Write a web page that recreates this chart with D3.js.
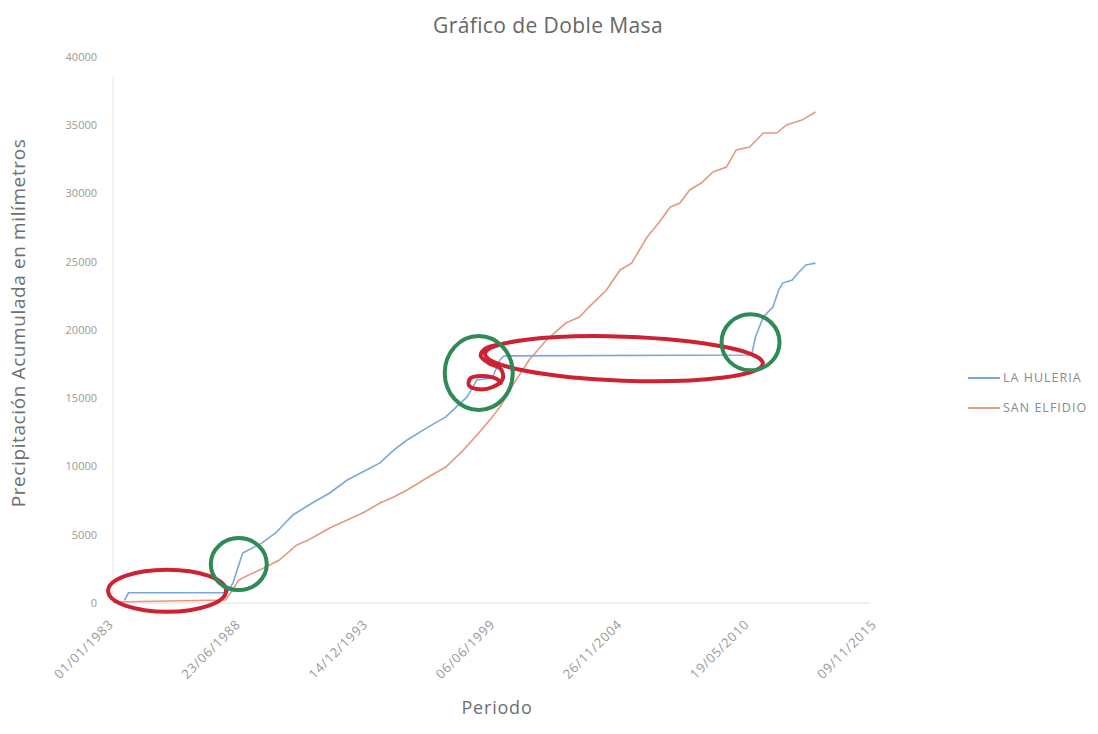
<!DOCTYPE html>
<html><head><meta charset="utf-8">
<script src="https://cdn.jsdelivr.net/npm/d3@7"></script>
<style>body{margin:0;background:#fff;font-family:"Open Sans","Noto Sans",sans-serif;}</style>
</head><body>
<svg id="c" width="1098" height="734"></svg>
<script>
const tickDates = ["1983-01-01","1988-06-23","1993-12-14","1999-06-06","2004-11-26","2010-05-19","2015-11-09"];
const tickLabels = ["01/01/1983","23/06/1988","14/12/1993","06/06/1999","26/11/2004","19/05/2010","09/11/2015"];
const yTicks = [0,5000,10000,15000,20000,25000,30000,35000,40000];

const huleriaDates = ["1983-07-01","1983-09-01","1987-12-01","1988-03-01","1988-08-01","1988-11-01","1989-06-01","1990-01-01","1990-10-01","1991-08-01","1992-05-01","1993-02-01","1993-10-01","1994-07-01","1995-02-01","1995-09-01","1996-08-01","1997-05-01","1998-04-01","1998-09-01","1999-05-01","1999-09-01","1999-11-01","2010-07-01","2010-09-01","2011-01-01","2011-06-01","2011-09-01","2011-11-01","2012-04-01","2012-07-01","2012-11-01","2013-04-01"];
const huleriaValues = [200,750,760,1460,3660,3880,4400,5130,6450,7330,8060,9010,9600,10260,11200,11940,12900,13630,15100,16340,16480,17800,18100,18170,19490,20950,21680,22930,23440,23660,24180,24760,24900];

const elfidioDates = ["1983-01-01","1987-11-01","1988-01-01","1988-06-01","1988-11-01","1989-07-01","1990-03-01","1990-12-01","1991-06-01","1992-05-01","1993-02-01","1993-11-01","1994-07-01","1995-02-01","1995-09-01","1996-08-01","1997-05-01","1998-02-01","1998-10-01","1999-05-01","1999-09-01","2000-03-01","2000-12-01","2001-09-01","2002-07-01","2003-02-01","2003-07-01","2004-04-01","2004-11-01","2005-05-01","2006-01-01","2006-07-01","2007-01-01","2007-06-01","2007-11-01","2008-05-01","2008-11-01","2009-06-01","2009-11-01","2010-06-01","2011-01-01","2011-08-01","2012-01-01","2012-09-01","2013-04-01"];
const elfidioValues = [70,220,590,1680,2050,2560,3150,4250,4620,5490,6080,6670,7330,7770,8280,9230,9960,11200,12450,13630,14360,15820,17800,19270,20510,20950,21680,22930,24400,24900,26810,27840,29010,29300,30260,30770,31575,31940,33190,33400,34430,34430,35020,35380,35970];

const seriesNames = ["LA HULERIA","SAN ELFIDIO"];
const seriesColors = ["#7ba7dc","#e39a80"];

// hand-drawn annotations (centres in data units)
const redEllipses = [{d:"1985-05-01",v:900,rx:59,ry:21,rot:0},{d:"2005-01-01",v:17900,rx:139,ry:22,rot:2}];
const greenCircles = [{d:"1988-06-01",v:2850,rx:28,ry:26},{d:"1998-10-01",v:16850,rx:34,ry:37},{d:"2010-06-15",v:19100,rx:29,ry:28}];
const loopCentre = {d:"1998-10-01",v:16850};

const parse = d3.timeParse("%Y-%m-%d");
const svg = d3.select("#c");
const x = d3.scaleTime().domain([parse(tickDates[0]), parse(tickDates[tickDates.length-1])]).range([113, 876]);
const y = d3.scaleLinear().domain([0,40000]).range([603,57]);

// axes lines
svg.append("line").attr("x1",113).attr("x2",113).attr("y1",y(40000)+20).attr("y2",y(0)).attr("stroke","#e6e6e6");
svg.append("line").attr("x1",113).attr("x2",870).attr("y1",y(0)).attr("y2",y(0)).attr("stroke","#dedede");

// y tick labels
svg.append("g").selectAll("text").data(yTicks).join("text")
  .attr("x",97).attr("y",d=>y(d)).attr("dy","0.35em").attr("text-anchor","end")
  .attr("font-size",11).attr("fill","#999").text(d=>d);

// x tick labels
svg.append("g").selectAll("text").data(tickDates).join("text")
  .attr("transform",(d)=>`translate(${x(parse(d))-2},${y(0)+19}) rotate(-45)`)
  .attr("text-anchor","end").attr("dy","0.35em").attr("letter-spacing",0.8)
  .attr("font-size",13).attr("fill","#999").text((d,i)=>tickLabels[i]);

const line = d3.line().x(d=>x(d[0])).y(d=>y(d[1]));
const s1 = huleriaDates.map((d,i)=>[parse(d),huleriaValues[i]]);
const s2 = elfidioDates.map((d,i)=>[parse(d),elfidioValues[i]]);
svg.append("path").attr("d",line(s2)).attr("fill","none").attr("stroke",seriesColors[1]).attr("stroke-width",1.6);
svg.append("path").attr("d",line(s1)).attr("fill","none").attr("stroke",seriesColors[0]).attr("stroke-width",1.6);

// annotations
const red="#cc2233", green="#2f8a55";
redEllipses.forEach(e=>{
  const cx=x(parse(e.d)), cy=y(e.v);
  svg.append("ellipse").attr("cx",cx).attr("cy",cy).attr("rx",e.rx).attr("ry",e.ry)
    .attr("transform",`rotate(${e.rot},${cx},${cy})`)
    .attr("fill","none").attr("stroke",red).attr("stroke-width",4);
});
{
  const cx=x(parse(loopCentre.d)), cy=y(loopCentre.v);
  const pts=[[18,-28],[6,-24],[2,-17],[10,-10],[22,-4],[24,6],[14,14],[-2,16],[-10,12],[-8,5],[4,3],[18,6],[22,10]];
  svg.append("path").attr("d",d3.line().curve(d3.curveCatmullRom)(pts.map(p=>[cx+p[0],cy+p[1]])))
    .attr("fill","none").attr("stroke",red).attr("stroke-width",4).attr("stroke-linecap","round");
}
greenCircles.forEach(e=>{
  svg.append("ellipse").attr("cx",x(parse(e.d))).attr("cy",y(e.v)).attr("rx",e.rx).attr("ry",e.ry)
    .attr("fill","none").attr("stroke",green).attr("stroke-width",4);
});

// title & axis titles
svg.append("text").attr("x",548).attr("y",33).attr("text-anchor","middle").attr("font-size",21).attr("letter-spacing",0.4).attr("fill","#666").text("Gráfico de Doble Masa");
svg.append("text").attr("transform","translate(25,323) rotate(-90)").attr("text-anchor","middle").attr("font-size",19).attr("letter-spacing",0.6).attr("fill","#707070").text("Precipitación Acumulada en milímetros");
svg.append("text").attr("x",497).attr("y",714).attr("text-anchor","middle").attr("font-size",18).attr("letter-spacing",0.8).attr("fill","#707070").text("Periodo");

// legend
const lg = svg.append("g");
seriesNames.forEach((n,i)=>{
  const ly=378+i*30;
  lg.append("line").attr("x1",968).attr("x2",1000).attr("y1",ly).attr("y2",ly).attr("stroke",seriesColors[i]).attr("stroke-width",2);
  lg.append("text").attr("x",1003).attr("y",ly).attr("dy","0.35em").attr("font-size",12.5).attr("letter-spacing",1).attr("fill","#8a8a8a").text(n);
});
</script>
</body></html>
